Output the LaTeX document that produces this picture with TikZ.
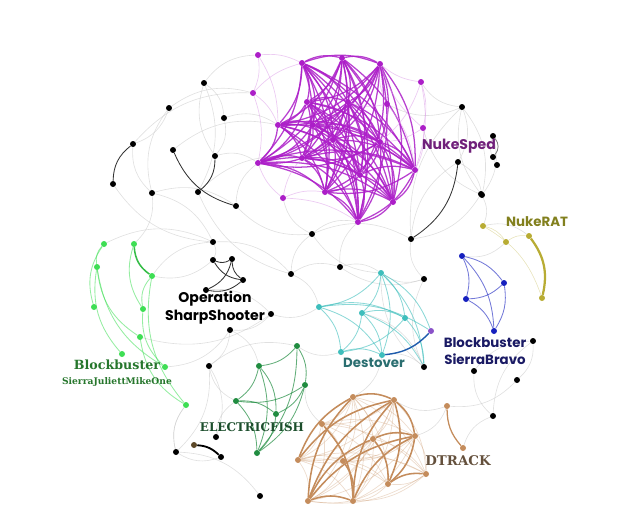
\documentclass[tikz,border=0pt]{standalone}
\usepackage{fontspec}
\newfontfamily\geofont{Poppins}
\newfontfamily\slabfont{DejaVu Serif}
\pgfdeclarelayer{bg}
\pgfsetlayers{bg,main}

\definecolor{nsp}{RGB}{172,30,200}
\definecolor{nsptxt}{RGB}{112,32,122}
\definecolor{sjgreen}{RGB}{62,222,84}
\definecolor{sjtxt}{RGB}{38,118,44}
\definecolor{efgreen}{RGB}{32,140,64}
\definecolor{eftxt}{RGB}{28,78,44}
\definecolor{dteal}{RGB}{62,190,188}
\definecolor{dtxt}{RGB}{42,110,112}
\definecolor{sbblue}{RGB}{22,32,190}
\definecolor{sbtxt}{RGB}{26,26,100}
\definecolor{nrolive}{RGB}{184,172,52}
\definecolor{nrtxt}{RGB}{130,128,30}
\definecolor{dtbrown}{RGB}{196,140,92}
\definecolor{dttxt}{RGB}{100,80,60}
\definecolor{odd}{RGB}{138,82,200}
\definecolor{darkbrown}{RGB}{92,72,40}

\tikzset{
  dot/.style={circle, fill=#1, inner sep=0pt, minimum size=0.15cm},
  faint/.style={draw=gray!40, line width=0.45pt, opacity=0.6},
  nspedge/.style={draw=nsp, line width=0.9pt, opacity=0.85},
  nspfaint/.style={draw=nsp!45, line width=0.5pt, opacity=0.5},
  darkedge/.style={draw=black!80, line width=0.6pt},
  grplabel/.style={inner sep=1pt, align=center},
}

\begin{document}
\begin{tikzpicture}[x=0.025cm, y=-0.025cm]
  \useasboundingbox (0,0) rectangle (641,528);

  % NukeSped
  \foreach \n/\x/\y in {p1/302/63, p2/342/58, p3/380/64, p4/307/102, p5/348/102,
      p6/278/125, p7/313/125, p8/333/140, p9/380/142, p10/258/163, p11/302/158,
      p12/360/175, p13/415/170, p14/325/192, p15/393/202, p16/358/222,
      q1/258/55, q2/253/93, q3/421/82, q4/387/104, q5/423/128, q6/283/198}
    \node[dot=nsp] (\n) at (\x,\y) {};

  % unlabelled nodes
  \foreach \n/\x/\y in {b1/462/107, b2/493/136, b3/493/157, b4/497/165, b5/458/162,
      b6/482/195, b7/312/234, b8/411/239, b9/204/83, b10/169/108, b11/224/118,
      b12/133/144, b13/173/150, b14/215/156, b15/113/184, b16/152/193, b17/198/192,
      b18/236/206, b19/213/242, b20/213/260, b21/232/259, b22/243/280, b23/206/290,
      b24/291/274, b25/340/267, b26/271/314, b27/230/330, b28/209/366, b29/424/279,
      b30/424/367, b31/533/341, b32/474/371, b33/517/380, b34/493/416, b35/481/194,
      b36/216/437, b37/176/452, b38/221/457, b39/260/496}
    \node[dot=black] (\n) at (\x,\y) {};

  % Blockbuster SierraJuliettMikeOne
  \foreach \n/\x/\y in {g1/104/244, g2/134/244, g3/97/267, g4/152/276, g5/94/307,
      g6/143/309, g7/140/337, g8/122/354, g9/165/367, g10/186/405}
    \node[dot=sjgreen] (\n) at (\x,\y) {};

  % ELECTRICFISH
  \foreach \n/\x/\y in {e1/297/346, e2/259/366, e3/305/385, e4/236/401,
      e5/276/414, e6/257/453}
    \node[dot=efgreen] (\n) at (\x,\y) {};

  % Destover
  \foreach \n/\x/\y in {t1/381/273, t2/319/307, t3/362/313, t4/405/318,
      t5/341/352, t6/382/355}
    \node[dot=dteal] (\n) at (\x,\y) {};
  \node[dot=odd] (v1) at (431,331) {};

  % Blockbuster SierraBravo
  \foreach \n/\x/\y in {s1/462/256, s2/504/283, s3/466/299, s4/494/331}
    \node[dot=sbblue] (\n) at (\x,\y) {};

  % NukeRAT
  \foreach \n/\x/\y in {r1/483/226, r2/506/242, r3/529/236, r4/542/298}
    \node[dot=nrolive] (\n) at (\x,\y) {};

  % DTRACK
  \foreach \n/\x/\y in {d1/353/397, d2/394/400, d3/322/424, d4/373/439, d5/415/436,
      d6/298/460, d7/343/461, d8/426/474, d9/388/484, d10/308/501, d11/353/501,
      d12/447/406, d13/463/448}
    \node[dot=dtbrown] (\n) at (\x,\y) {};
  \node[dot=darkbrown] (x1) at (194,445) {};

  \begin{pgfonlayer}{bg}
    % light links between groups
    \foreach \a/\b in {b9/b11, b9/b17, b10/b12, b11/b14, b16/b19, b16/g2, b19/b20,
        b19/b24, b18/p10, b11/p6, b14/p10, b17/p11, b13/p6, b12/q2, b10/q2, b9/q1,
        b16/b18, b24/b7, b24/t2, b26/b27, b25/t1, b7/b8, b7/p16, b27/b28, b27/e2,
        b28/e1, b26/g7, b29/t1, b8/b1, b1/b5, b1/b6, b1/q3, b5/b6, b35/b8, b35/r1,
        b31/b33, b30/t1, b37/b39, b37/g10, b36/e4, t6/d1, t5/e1, d12/d2, b33/d12,
        r1/r3, r2/s1, b6/q5, b2/b6, g4/b19, b23/b26, b24/b25, b20/g4}
      \draw[faint] (\a) to[bend left=25] (\b);
    \foreach \a/\b in {b9/b14, b10/b16, b12/b16, b15/b19, b17/b24, b18/b7, b19/g1,
        b26/t2, b25/b29, b29/b30, b7/t1, b8/b29, b1/b35, b5/b8, b31/b32, b32/b34,
        b31/b34, b30/t3, b30/t6, b37/b38, b37/b28, b36/b28, d5/d12, b34/d13, e3/d3,
        b28/e4, g10/b37, g9/b27, p16/b25, q6/b7, b2/b4, q4/b1}
      \draw[faint] (\a) to[bend right=25] (\b);

    % NukeSped
    \foreach \i in {1,...,16}{
      \foreach \j in {1,...,16}{
        \ifnum\i<\j \draw[nspedge] (p\i) to[bend left=20] (p\j); \fi
      }
    }
    \foreach \a/\b in {q1/p1, q1/p6, q2/p1, q2/p6, q2/p10, q3/p3, q3/p9, q3/p13,
        q4/p3, q4/p5, q4/p9, q4/p13, q5/p9, q5/p13, q5/p3, q6/p10, q6/p14, q6/p11,
        q6/p16, q3/q5, q1/q2}
      \draw[nspfaint] (\a) to[bend left=15] (\b);

    % dark links
    \foreach \a/\b in {b12/b15, b13/b18, b17/b14, b8/b5, b20/b21, b20/b22, b21/b22,
        b23/b21, b23/b22}
      \draw[darkedge] (\a) to[bend right=25] (\b);
    \draw[draw=gray, line width=0.6pt] (b2) to[bend left=40] (b3);
    \draw[draw=black, line width=1.3pt] (x1) to[bend left=20] (b38);

    % Blockbuster SierraJuliettMikeOne
    \foreach \a/\b in {g3/g8, g1/g5, g6/g9, g7/g10, g3/g9, g4/g6, g2/g6, g1/g3,
        g3/g7, g4/g10}
      \draw[draw=sjgreen, line width=0.6pt, opacity=0.55] (\a) to[bend right=25] (\b);
    \draw[draw=sjgreen!85!black, line width=1.1pt] (g2) to[bend right=25] (g4);

    % ELECTRICFISH
    \foreach \a/\b in {e1/e2, e1/e3, e1/e6, e2/e4, e2/e5, e2/e6, e3/e4, e3/e6,
        e4/e5, e4/e6, e5/e6, e3/e5}
      \draw[draw=efgreen, line width=0.6pt, opacity=0.7] (\a) to[bend left=20] (\b);

    % Destover
    \foreach \a/\b in {t1/t2, t1/t3, t1/t4, t1/b30, t1/t6, t2/t6, t2/t5, t2/v1,
        t3/t5, t3/t4, t3/b30, t3/t6, t4/t5, t4/b30, t5/t6, t2/t4, t1/v1}
      \draw[draw=dteal, line width=0.6pt, opacity=0.6] (\a) to[bend left=20] (\b);
    \draw[draw=blue!40!dteal!80!black, line width=1pt] (t6) to[bend right=20] (v1);

    % Blockbuster SierraBravo
    \foreach \a/\b in {s1/s2, s1/s3, s1/s4, s2/s3, s2/s4, s3/s4}
      \draw[draw=sbblue, line width=0.6pt, opacity=0.6] (\a) to[bend left=20] (\b);

    % NukeRAT
    \draw[draw=nrolive, line width=1.6pt] (r3) to[bend left=25] (r4);
    \foreach \a/\b in {r1/r2, r2/r3, r1/r4}
      \draw[draw=nrolive, line width=0.4pt, opacity=0.35] (\a) to[bend left=20] (\b);

    % DTRACK
    \foreach \i in {1,...,11}{
      \foreach \j in {1,...,11}{
        \ifnum\i<\j \draw[draw=dtbrown, line width=0.5pt, opacity=0.3] (d\i) to[bend left=20] (d\j); \fi
      }
    }
    \foreach \a/\b in {d10/d2, d10/d5, d10/d4, d10/d1, d11/d2, d11/d5, d1/d2, d2/d9,
        d4/d9, d5/d9, d2/d5, d3/d11, d6/d1, d6/d2, d10/d11, d9/d8, d4/d5, d7/d11}
      \draw[draw=dtbrown, line width=1.1pt] (\a) to[bend left=20] (\b);
    \draw[draw=dtbrown, line width=0.9pt] (d12) to[bend right=20] (d13);
  \end{pgfonlayer}

  % group names
  \node[grplabel, text=nsptxt, font=\geofont\bfseries\fontsize{10}{12}\selectfont] (nukesped) at (459,146) {NukeSped};
  \node[grplabel, text=nrtxt, font=\geofont\bfseries\fontsize{9.5}{11}\selectfont] (nukerat) at (537,222) {NukeRAT};
  \node[grplabel, text=black, font=\geofont\bfseries\fontsize{10}{13}\selectfont] (sharpshooter) at (215,308) {Operation\\SharpShooter};
  \node[grplabel, text=sjtxt, font=\slabfont\bfseries] (sjmo) at (117,373)
    {\fontsize{9}{11}\selectfont Blockbuster\\[-1pt]\fontsize{6.5}{8}\selectfont SierraJuliettMikeOne};
  \node[grplabel, text=eftxt, font=\slabfont\bfseries\fontsize{8.5}{10}\selectfont] (electricfish) at (252,427) {ELECTRICFISH};
  \node[grplabel, text=dtxt, font=\geofont\bfseries\fontsize{9.5}{11}\selectfont] (destover) at (374,363) {Destover};
  \node[grplabel, text=sbtxt, font=\geofont\bfseries\fontsize{9.5}{12.5}\selectfont] (sierrabravo) at (485,351) {Blockbuster\\SierraBravo};
  \node[grplabel, text=dttxt, font=\slabfont\bfseries\fontsize{9.5}{11}\selectfont] (dtrack) at (458,461) {DTRACK};
\end{tikzpicture}
\end{document}
